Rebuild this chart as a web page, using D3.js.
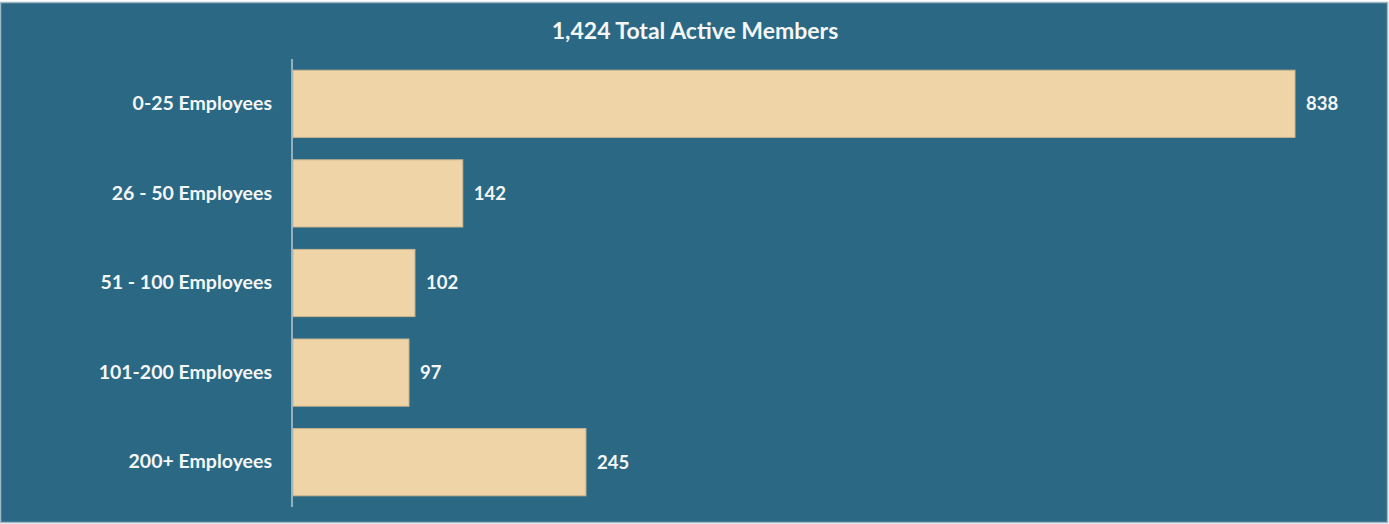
<!DOCTYPE html>
<html>
<head>
<meta charset="utf-8">
<script src="https://cdnjs.cloudflare.com/ajax/libs/d3/7.8.5/d3.min.js"></script>
<style>
  html, body { margin: 0; padding: 0; background: #ffffff; }
  svg text { font-family: Lato, "Open Sans", sans-serif; font-weight: bold; fill: #f4f6f8; }
</style>
</head>
<body>
<div id="chart"></div>
<script>
// member counts by company size
var categories = ["0-25 Employees", "26 - 50 Employees", "51 - 100 Employees", "101-200 Employees", "200+ Employees"];
var members = [838, 142, 102, 97, 245];
var title = "1,424 Total Active Members";

var W = 1389, H = 524;
var margin = {top: 59, right: 94, bottom: 17, left: 293};

var svg = d3.select("#chart").append("svg")
    .attr("width", W)
    .attr("height", H);

// panel background with thin light frame
svg.append("rect")
    .attr("x", 0.5).attr("y", 2.5)
    .attr("width", W - 2).attr("height", H - 4)
    .attr("fill", "#2b6883")
    .attr("stroke", "#9fb6c4")
    .attr("stroke-width", 1.5);

var x = d3.scaleLinear()
    .domain([0, 838])
    .range([margin.left, W - margin.right]);

var y = d3.scaleBand()
    .domain(categories)
    .range([margin.top, H - margin.bottom])
    .paddingInner(0.25)
    .paddingOuter(0.125);

svg.append("text")
    .attr("x", 695)
    .attr("y", 39)
    .attr("text-anchor", "middle")
    .style("font-size", "23px")
    .text(title);

svg.selectAll("rect.bar")
    .data(members)
  .enter().append("rect")
    .attr("class", "bar")
    .attr("x", x(0))
    .attr("y", function(d, i) { return y(categories[i]); })
    .attr("width", function(d) { return x(d) - x(0); })
    .attr("height", y.bandwidth())
    .attr("fill", "#efd4a8")
    .attr("stroke", "#c9b48f")
    .attr("stroke-width", 1);

svg.selectAll("text.val")
    .data(members)
  .enter().append("text")
    .attr("class", "val")
    .attr("x", function(d) { return x(d) + 11; })
    .attr("y", function(d, i) { return y(categories[i]) + y.bandwidth() / 2; })
    .attr("dy", "0.35em")
    .style("font-size", "18.5px")
    .text(function(d) { return d; });

// category axis
var yAxis = svg.append("g")
    .attr("transform", "translate(" + (x(0) - 1) + ",0)")
    .call(d3.axisLeft(y).tickSize(0).tickPadding(20));

yAxis.select(".domain")
    .attr("stroke", "#b9c8d2")
    .attr("stroke-width", 1.5)
    .attr("d", "M0," + (margin.top) + "V" + (H - margin.bottom));

yAxis.selectAll("text")
    .style("font-family", "Lato, 'Open Sans', sans-serif")
    .style("font-size", "19.5px")
    .style("font-weight", "bold")
    .attr("fill", "#f4f6f8");
</script>
</body>
</html>
